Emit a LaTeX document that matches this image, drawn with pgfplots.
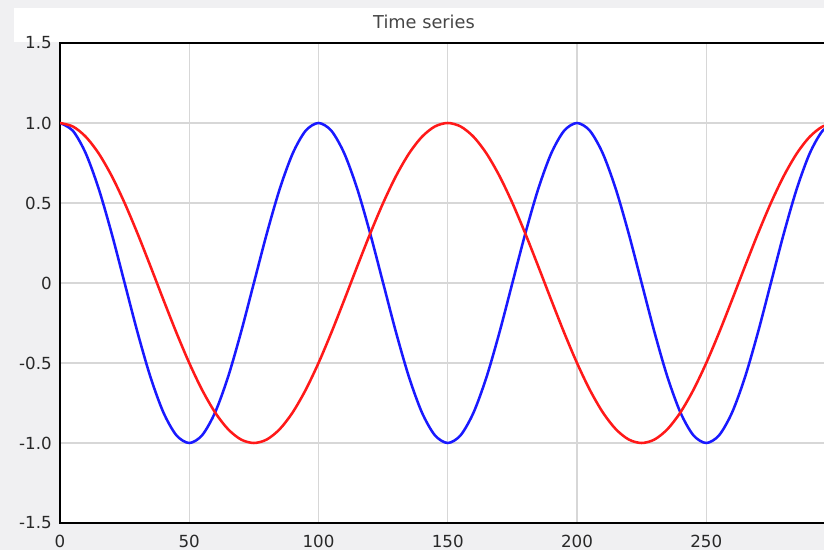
\documentclass[border=0pt]{standalone}
\usepackage{pgfplots}
\pgfplotsset{compat=1.18}
\usepackage{pgfplotstable}
\usepackage{fontspec}
\setmainfont{DejaVu Sans}
\definecolor{bggray}{RGB}{240,240,242}
\definecolor{gridgray}{RGB}{215,215,215}
\definecolor{ticktext}{RGB}{40,40,40}
\definecolor{titletext}{RGB}{70,70,70}
\definecolor{cblue}{RGB}{25,25,255}
\definecolor{cred}{RGB}{255,25,25}
\pgfplotstableread{
x b r
0 1 1
5 0.9511 0.9781
10 0.8090 0.9135
15 0.5878 0.8090
20 0.3090 0.6691
25 0 0.5
30 -0.3090 0.3090
35 -0.5878 0.1045
40 -0.8090 -0.1045
45 -0.9511 -0.3090
50 -1 -0.5
55 -0.9511 -0.6691
60 -0.8090 -0.8090
65 -0.5878 -0.9135
70 -0.3090 -0.9781
75 0 -1
80 0.3090 -0.9781
85 0.5878 -0.9135
90 0.8090 -0.8090
95 0.9511 -0.6691
100 1 -0.5
105 0.9511 -0.3090
110 0.8090 -0.1045
115 0.5878 0.1045
120 0.3090 0.3090
125 0 0.5
130 -0.3090 0.6691
135 -0.5878 0.8090
140 -0.8090 0.9135
145 -0.9511 0.9781
150 -1 1
155 -0.9511 0.9781
160 -0.8090 0.9135
165 -0.5878 0.8090
170 -0.3090 0.6691
175 0 0.5
180 0.3090 0.3090
185 0.5878 0.1045
190 0.8090 -0.1045
195 0.9511 -0.3090
200 1 -0.5
205 0.9511 -0.6691
210 0.8090 -0.8090
215 0.5878 -0.9135
220 0.3090 -0.9781
225 0 -1
230 -0.3090 -0.9781
235 -0.5878 -0.9135
240 -0.8090 -0.8090
245 -0.9511 -0.6691
250 -1 -0.5
255 -0.9511 -0.3090
260 -0.8090 -0.1045
265 -0.5878 0.1045
270 -0.3090 0.3090
275 0 0.5
280 0.3090 0.6691
285 0.5878 0.8090
290 0.8090 0.9135
295 0.9511 0.9781
300 1 1
}\datatable
\begin{document}
\begin{tikzpicture}[x=0.75pt,y=0.75pt]
\useasboundingbox (0,0) rectangle (824,550);
\clip (0,0) rectangle (824,550);
\fill[bggray] (0,0) rectangle (824,550);
\fill[white] (14,508) rectangle (824,542);
\node[text=titletext, font=\fontsize{13.3}{15}\selectfont] at (424,528) {Time series};
\coordinate (A) at (60,27);
\begin{axis}[
  at={(A)}, anchor=south west,
  scale only axis,
  width=775.5*0.75pt, height=480*0.75pt,
  xmin=0, xmax=300, ymin=-1.5, ymax=1.5,
  xtick={0,50,...,250},
  ytick={-1.5,-1,-0.5,0,0.5,1,1.5},
  yticklabels={-1.5,-1.0,-0.5,0,0.5,1.0,1.5},
  major tick length=0pt,
  grid=major,
  major grid style={gridgray, line width=1.1pt},
  axis line style={black, line width=1.6pt},
  axis background/.style={fill=white},
  /pgf/number format/assume math mode=true,
  tick label style={text=ticktext, font=\fontsize{12.5}{14}\selectfont},
  xticklabel style={inner sep=0pt, anchor=north, yshift=-9pt},
  yticklabel style={inner sep=0pt, anchor=east, xshift=-6pt},
]
\addplot[cblue, line width=1.9pt, smooth] table[x=x, y=b] {\datatable};
\addplot[cred, line width=1.9pt, smooth] table[x=x, y=r] {\datatable};
\end{axis}
\end{tikzpicture}
\end{document}
